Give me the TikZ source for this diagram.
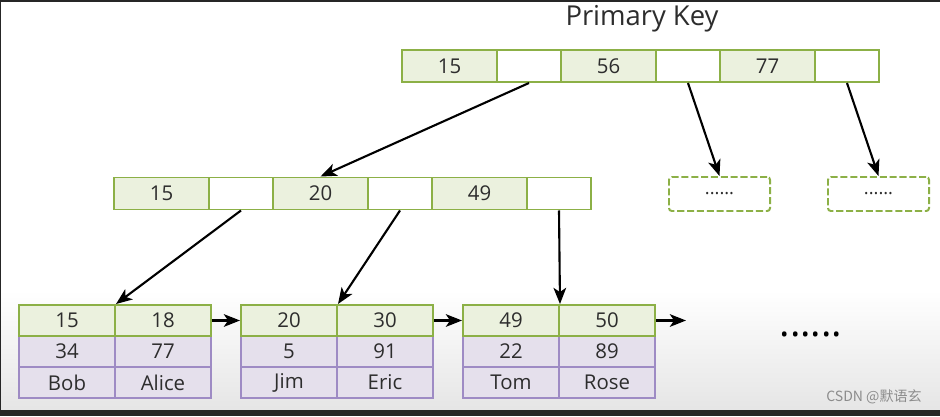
\documentclass[tikz,border=0pt]{standalone}
\usepackage{fontspec}
\setmainfont{Open Sans}
\newfontfamily\cjk{Noto Sans CJK SC}
\usetikzlibrary{arrows.meta}
\definecolor{keygreen}{RGB}{140,176,70}
\definecolor{keyfill}{RGB}{235,241,222}
\definecolor{rowpurple}{RGB}{158,139,196}
\definecolor{rowfill}{RGB}{229,224,236}
\definecolor{ink}{RGB}{45,45,45}
\tikzset{>={Stealth[length=11.5pt,width=9pt,inset=3pt]}}
\tikzset{
  keycell/.style={draw=keygreen, fill=keyfill, line width=1.4pt, inner sep=0pt,
    minimum width=2.375cm, minimum height=0.8cm, text=ink, font=\fontsize{14.5}{14.5}\selectfont},
  ptrcell/.style={keycell, fill=white, minimum width=1.6cm},
  leafkey/.style={keycell, minimum width=2.4cm, minimum height=0.775cm},
  leafrow/.style={leafkey, draw=rowpurple, fill=rowfill},
  moreblock/.style={draw=keygreen, line width=1.4pt, dash pattern=on 5pt off 2pt, rounded corners=2pt,
    minimum width=2.525cm, minimum height=0.85cm, text=ink, font=\fontsize{13}{13}\selectfont},
  link/.style={->, line width=1.5pt}
}

\begin{document}
\begin{tikzpicture}[x=0.025cm, y=-0.025cm]
\fill[white] (0,0) rectangle (940,416);
\shade[top color=white, bottom color=black!10] (0,290) rectangle (940,410);
\fill[black!85] (0,410) rectangle (940,416);
\fill[black!85] (0,0) rectangle (940,1.5);
\fill[black!85] (0,0) rectangle (1.5,410);
\useasboundingbox (0,0) rectangle (940,416);

\node[anchor=base, text=ink, font=\fontsize{19.5}{19.5}\selectfont] (title) at (642,25) {Primary Key};

\node[keycell] (tk1) at (449.5,66) {15};
\node[ptrcell] (tp1) at (529,66) {};
\node[keycell] (tk2) at (608.5,66) {56};
\node[ptrcell] (tp2) at (688,66) {};
\node[keycell] (tk3) at (767.5,66) {77};
\node[ptrcell] (tp3) at (847,66) {};

\node[keycell] (mk1) at (161.5,193.5) {15};
\node[ptrcell] (mp1) at (241,193.5) {};
\node[keycell] (mk2) at (320.5,193.5) {20};
\node[ptrcell] (mp2) at (400,193.5) {};
\node[keycell] (mk3) at (479.5,193.5) {49};
\node[ptrcell] (mp3) at (559,193.5) {};

\node[moreblock] (d1) at (719.5,194) {......};
\node[moreblock] (d2) at (878.5,194) {......};

\node[leafrow] (l1v1) at (67,351.5) {34};
\node[leafrow] (l1v2) at (163,351.5) {77};
\node[leafrow] (l1n1) at (67,382.5) {Bob};
\node[leafrow] (l1n2) at (163,382.5) {Alice};
\node[leafkey] (l1k1) at (67,320.5) {15};
\node[leafkey] (l1k2) at (163,320.5) {18};

\node[leafrow] (l2v1) at (289,351.5) {5};
\node[leafrow] (l2v2) at (385,351.5) {91};
\node[leafrow] (l2n1) at (289,382.5) {Jim};
\node[leafrow] (l2n2) at (385,382.5) {Eric};
\node[leafkey] (l2k1) at (289,320.5) {20};
\node[leafkey] (l2k2) at (385,320.5) {30};

\node[leafrow] (l3v1) at (511,351.5) {22};
\node[leafrow] (l3v2) at (607,351.5) {89};
\node[leafrow] (l3n1) at (511,382.5) {Tom};
\node[leafrow] (l3n2) at (607,382.5) {Rose};
\node[leafkey] (l3k1) at (511,320.5) {49};
\node[leafkey] (l3k2) at (607,320.5) {50};

\coordinate (nx) at (686,320.5);
\node[anchor=base, text=black, font=\fontsize{28}{28}\selectfont] (more) at (811,336) {......};

\draw[link] (tp1.south) -- (mk2.north);
\draw[link] (tp2.south) -- (d1.north);
\draw[link] (tp3.south) -- (d2.north);
\draw[link] (mp1.south) -- (l1k1.north east);
\draw[link] (mp2.south) -- (l2k1.north east);
\draw[link] (mp3.south) -- (l3k1.north east);
\draw[link] (l1k2.east) -- (l2k1.west);
\draw[link] (l2k2.east) -- (l3k1.west);
\draw[link] (l3k2.east) -- (nx);

\node[text=black!45, font=\cjk\fontsize{10}{10}\selectfont] (mark) at (874,397) {CSDN @默语玄};
\end{tikzpicture}
\end{document}
